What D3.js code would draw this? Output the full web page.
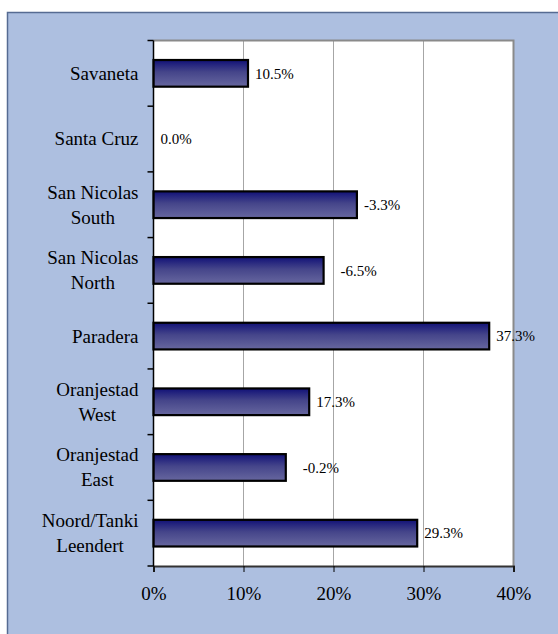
<!DOCTYPE html>
<html>
<head>
<meta charset="utf-8">
<script src="https://cdn.jsdelivr.net/npm/d3@7"></script>
<style>
  body { margin: 0; background: #fff; }
  svg text, svg tspan { font-family: "Liberation Serif", "Times New Roman", Times, serif; }
</style>
</head>
<body>
<svg id="chart" width="558" height="634"></svg>
<script>
// districts top to bottom, bar length in percent and the printed label
const districts = ['Savaneta', 'Santa Cruz', 'San Nicolas South', 'San Nicolas North',
  'Paradera', 'Oranjestad West', 'Oranjestad East', 'Noord/Tanki Leendert']
const barValues = [10.5, 0, 22.6, 18.9, 37.3, 17.3, 14.7, 29.3]
const labelTexts = ['10.5%', '0.0%', '-3.3%', '-6.5%', '37.3%', '17.3%', '-0.2%', '29.3%']
// value (in %) where each label sits; two labels were moved away from their bars
const labelAt = [10.5, 0, 22.6, 20.0, 37.3, 17.3, 15.8, 29.3]
const xTicks = [0, 10, 20, 30, 40]

const serif = 'Liberation Serif'
const svg = d3.select('#chart')
const margin = { top: 40.5, left: 153.5, right: 44.5, bottom: 68 }
const width = 558 - margin.left - margin.right
const height = 634 - margin.top - margin.bottom

// chart area background
svg.append('rect')
  .attr('x', 7.5).attr('y', 12.5)
  .attr('width', 600).attr('height', 700)
  .attr('fill', '#adbfe0')
  .attr('stroke', '#566b92')
  .attr('stroke-width', 1.5)

const defs = svg.append('defs')
const grad = defs.append('linearGradient')
  .attr('id', 'barfill').attr('x1', 0).attr('y1', 0).attr('x2', 0).attr('y2', 1)
grad.append('stop').attr('offset', '0%').attr('stop-color', '#111177')
grad.append('stop').attr('offset', '45%').attr('stop-color', '#45458a')
grad.append('stop').attr('offset', '100%').attr('stop-color', '#67679f')

const x = d3.scaleLinear().domain([0, 40]).range([0, width])
const y = d3.scaleBand().domain(districts).range([0, height]).paddingInner(0.594).paddingOuter(0.297)
const yb = d3.scaleBand().domain(districts).range([0, height])

const g = svg.append('g').attr('transform', `translate(${margin.left},${margin.top})`)

// plot area
g.append('rect')
  .attr('width', width).attr('height', height)
  .attr('fill', '#fff')

g.append('g')
  .selectAll('line')
  .data(xTicks.slice(1, -1))
  .join('line')
  .attr('x1', d => x(d)).attr('x2', d => x(d))
  .attr('y1', 0).attr('y2', height)
  .attr('stroke', '#a6a6a6').attr('stroke-width', 1)

// top and right border of plot area
g.append('path')
  .attr('d', `M0,0H${width}V${height}`)
  .attr('fill', 'none')
  .attr('stroke', '#8a8a8a')
  .attr('stroke-width', 2)

// bars
g.append('g')
  .selectAll('rect')
  .data(districts)
  .join('rect')
  .filter((d, i) => barValues[i] > 0)
  .attr('x', 0)
  .attr('y', d => y(d))
  .attr('width', d => x(barValues[districts.indexOf(d)]))
  .attr('height', y.bandwidth())
  .attr('fill', 'url(#barfill)')
  .attr('stroke', '#000')
  .attr('stroke-width', 2.2)

// value labels
g.append('g')
  .selectAll('text')
  .data(districts)
  .join('text')
  .attr('x', (d, i) => x(labelAt[i]) + 7)
  .attr('y', d => y(d) + y.bandwidth() / 2)
  .attr('dy', '0.35em')
  .attr('font-family', serif)
  .attr('font-size', 15)
  .text((d, i) => labelTexts[i])

// bottom axis
const xAxis = d3.axisBottom(x)
  .tickValues(xTicks)
  .tickFormat(d => d + '%')
  .tickSize(6)
  .tickPadding(15)
const xg = g.append('g')
  .attr('transform', `translate(0,${height})`)
  .call(xAxis)
  .attr('font-family', serif)
  .attr('font-size', 19)
xg.select('.domain').attr('stroke', '#333').attr('stroke-width', 2)
xg.selectAll('.tick line').attr('stroke', '#000')
xg.selectAll('.tick text').attr('fill', '#000')

// left axis line and ticks between categories
g.append('line')
  .attr('x1', 0).attr('x2', 0).attr('y1', 0).attr('y2', height)
  .attr('stroke', '#000').attr('stroke-width', 1.5)
g.append('g')
  .selectAll('line')
  .data(districts.map(d => yb(d)).concat([height]))
  .join('line')
  .attr('x1', -6).attr('x2', 0)
  .attr('y1', d => d).attr('y2', d => d)
  .attr('stroke', '#000').attr('stroke-width', 1.5)

// category labels, wrapped and centred within a right-aligned block
const measure = svg.append('text')
  .attr('font-family', serif)
  .attr('font-size', 19)
  .attr('opacity', 0)
const textWidth = s => { measure.text(s); return measure.node().getComputedTextLength() }

function wrap(name, maxWidth) {
  const words = name.split(' ')
  const lines = []
  let line = words[0]
  for (const w of words.slice(1)) {
    if (textWidth(line + ' ' + w) > maxWidth) {
      lines.push(line)
      line = w
    } else {
      line += ' ' + w
    }
  }
  lines.push(line)
  return lines
}

const lineHeight = 25
const catLabels = g.append('g')
  .attr('font-family', serif)
  .attr('font-size', 19)
  .attr('text-anchor', 'middle')
districts.forEach(d => {
  const lines = wrap(d, 110)
  const blockWidth = d3.max(lines, textWidth)
  const cx = -15 - blockWidth / 2
  const cy = yb(d) + yb.bandwidth() / 2
  const t = catLabels.append('text').attr('fill', '#000')
  lines.forEach((l, i) => {
    t.append('tspan')
      .attr('x', cx)
      .attr('y', cy + (i - (lines.length - 1) / 2) * lineHeight)
      .attr('dy', '0.34em')
      .text(l)
  })
})
measure.remove()
</script>
</body>
</html>
